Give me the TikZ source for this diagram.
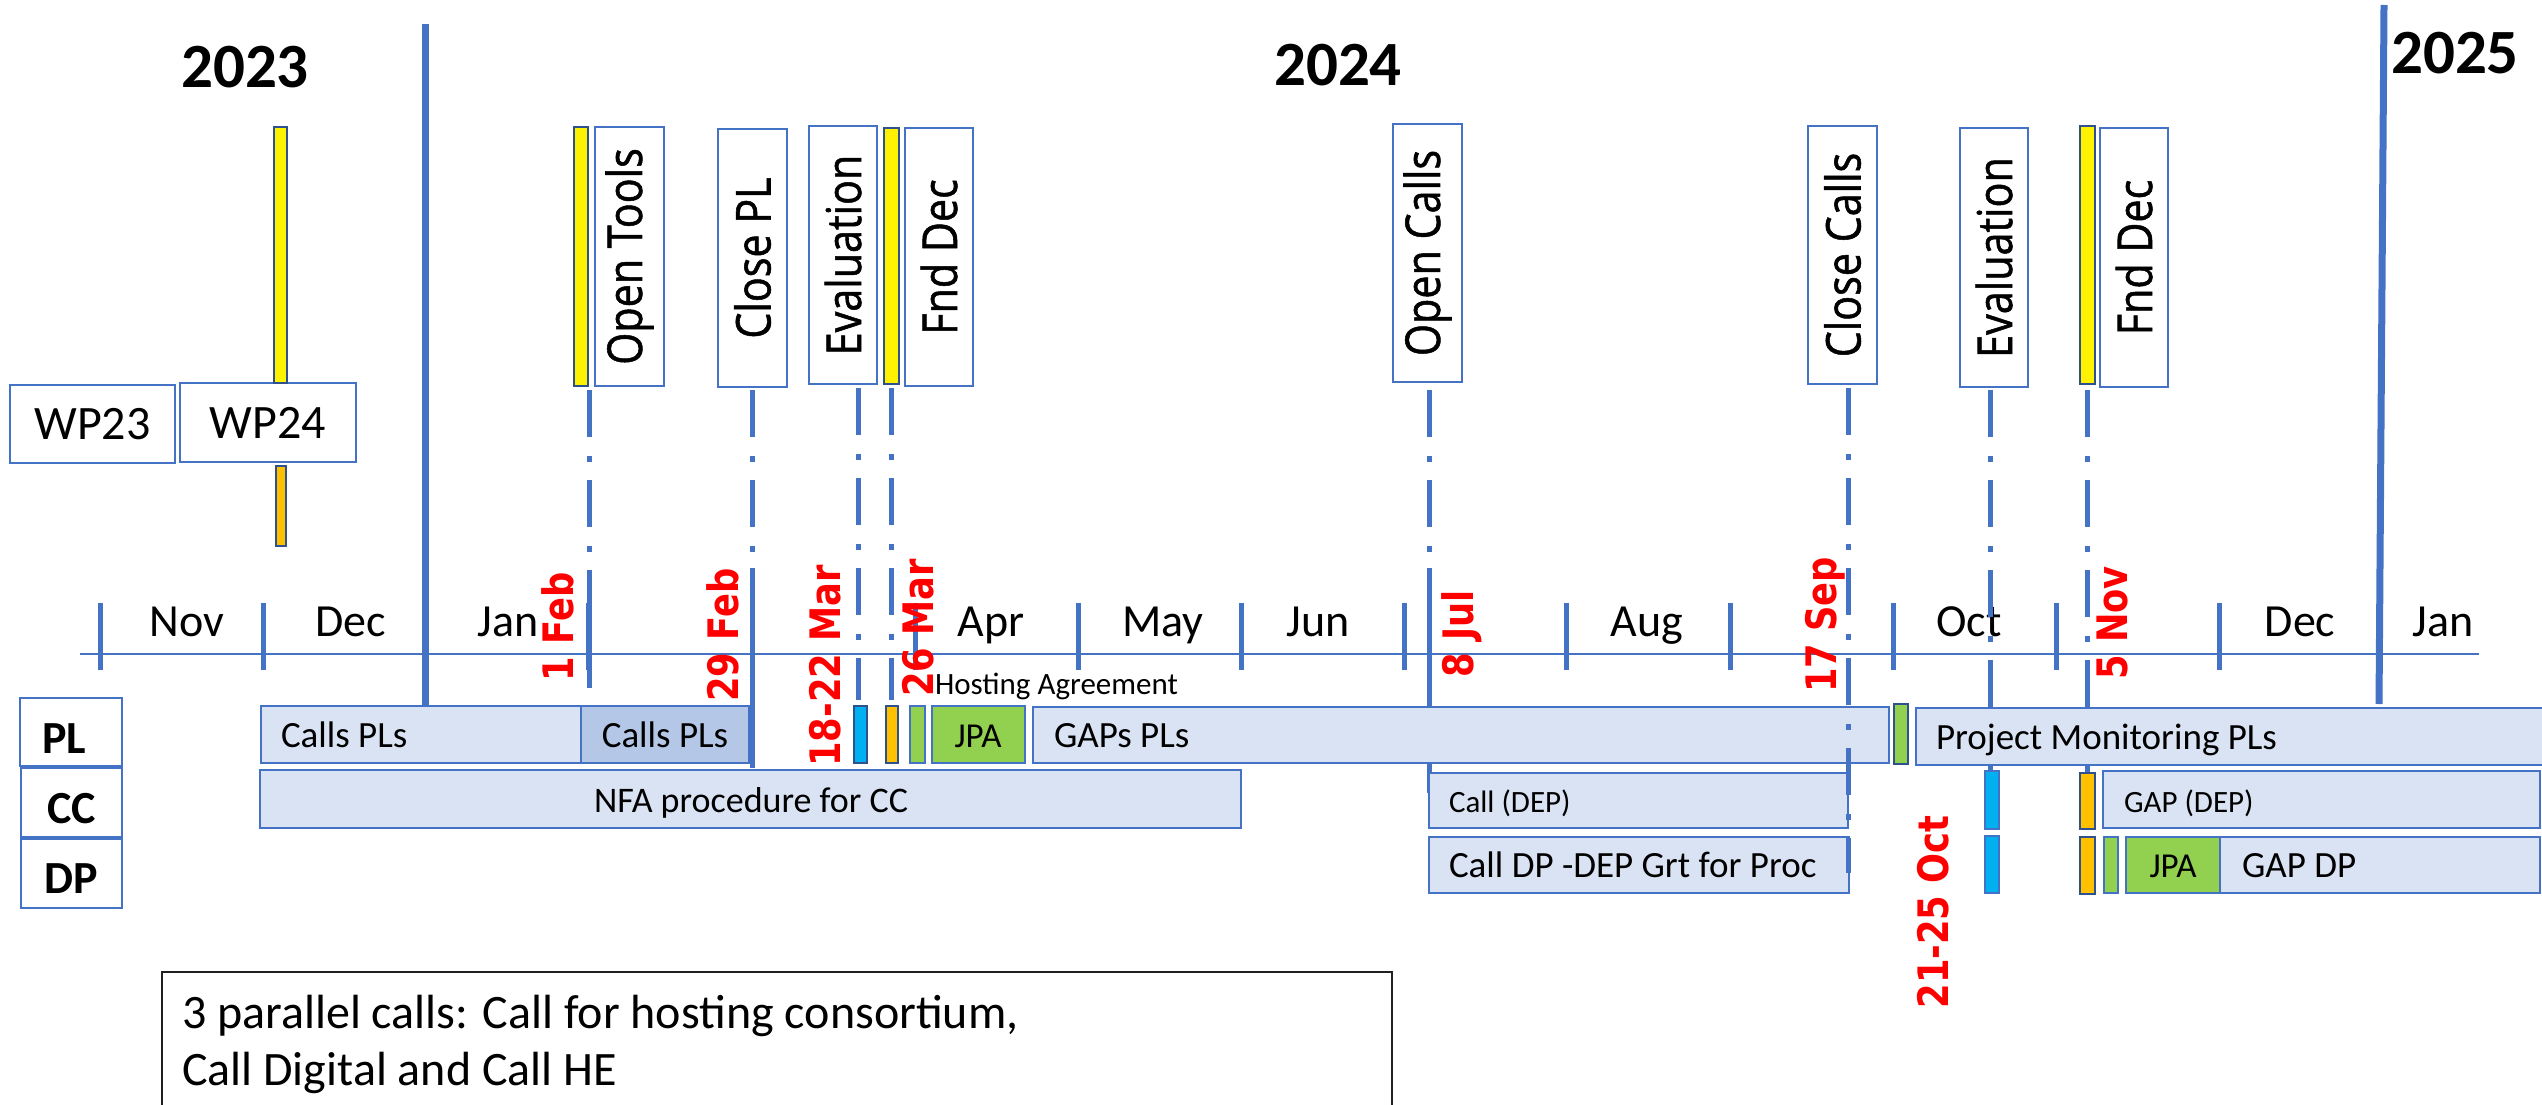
\documentclass[tikz,border=0pt]{standalone}
\usepackage{graphicx}
\usepackage{fontspec}
\setmainfont{Carlito}
\newfontfamily\boxfont{Open Sans}[UprightFeatures={FakeBold=1.2}]
\newfontfamily\datefont{DejaVu Sans}
\definecolor{ofblue}{HTML}{4472C4}
\definecolor{barfill}{HTML}{DAE3F3}
\definecolor{barfilldark}{HTML}{B4C7E7}
\definecolor{edgedark}{HTML}{2F528F}
\definecolor{jpagreen}{HTML}{92D050}
\definecolor{evalcyan}{HTML}{00B0F0}
\definecolor{decorange}{HTML}{FFC000}
\definecolor{notegray}{HTML}{202020}
\newcommand\fsz[1]{\fontsize{#1}{#1}\selectfont}
% box from corner (x1,y1) to (x2,y2): name, x1, y1, x2, y2, style, text
\newcommand\bx[7]{\node[#6,minimum width={(#4-#2)*1pt},minimum height={(#5-#3)*1pt}] (#1) at ({(#2+#4)/2},{(#3+#5)/2}) {#7};}
\newcommand\vtxt[1]{\rotatebox{90}{\scalebox{0.86}[1]{#1}}}
\newcommand\dtxt[1]{\scalebox{0.84}[1]{#1}}
\begin{document}
\begin{tikzpicture}[x=1pt,y=-1pt,
  every node/.style={inner sep=0pt,outer sep=0pt},
  bar/.style={draw=ofblue,line width=2.5pt,fill=barfill},
  bardark/.style={draw=ofblue,line width=2.5pt,fill=barfilldark},
  chip/.style={draw=edgedark,line width=2.5pt},
  greenchip/.style={draw=ofblue,line width=2.5pt,fill=jpagreen},
  lblbox/.style={draw=ofblue,line width=2.5pt,fill=white,font=\boxfont\fsz{48}},
  wpbox/.style={draw=ofblue,line width=2pt,font=\fsz{48}},
  rowbox/.style={draw=ofblue,line width=2pt},
  rowlbl/.style={font=\bfseries\fsz{46},anchor=base},
  month/.style={font=\fsz{46},anchor=base},
  yearlbl/.style={font=\bfseries\fsz{63},anchor=base},
  datelbl/.style={rotate=90,anchor=base,text=red,font=\datefont\bfseries\fsz{42}},
  bartext/.style={font=\fsz{37},anchor=base west},
  bartextc/.style={font=\fsz{37},anchor=base},
  smalltext/.style={font=\fsz{31},anchor=base west},
  ddash/.style={draw=ofblue,line width=5pt,dash pattern=on 47pt off 19pt on 6pt off 18pt},
  leadline/.style={draw=ofblue,line width=5pt},
  monthtick/.style={draw=ofblue,line width=5pt},
  yearline/.style={draw=ofblue,line width=7pt},
  axisline/.style={draw=ofblue,line width=2pt}
]
\useasboundingbox (0,0) rectangle (2542,1105);

% year headings
\node[yearlbl] (y23) at (245,88) {2023};
\node[yearlbl] (y24) at (1338,86) {2024};
\node[yearlbl] (y25) at (2455,74) {2025};

% time axis and month ticks
\coordinate (axL) at (80,654);
\coordinate (axR) at (2479,654);
\draw[axisline] (axL) -- (axR);
\foreach \x in {100,263,588,752,915,1078,1241,1404,1566,1730,1893,2056,2219}
  \draw[monthtick] (\x,603) -- (\x,670);

% year boundaries
\coordinate (yb1t) at (425,24);
\coordinate (yb1b) at (425,705);
\coordinate (yb2t) at (2384,5);
\coordinate (yb2b) at (2379,704);
\draw[yearline] (yb1t) -- (yb1b);
\draw[yearline] (yb2t) -- (yb2b);

% month names
\node[month] (mNov) at (187,636) {Nov};
\node[month] (mDec) at (351,636) {Dec};
\node[month] (mJan) at (508,636) {Jan};
\node[month] (mApr) at (991,636) {Apr};
\node[month] (mMay) at (1163,636) {May};
\node[month] (mJun) at (1318,636) {Jun};
\node[month] (mAug) at (1647,636) {Aug};
\node[month] (mOct) at (1969,636) {Oct};
\node[month] (mDec2) at (2300,636) {Dec};
\node[month] (mJan2) at (2443,636) {Jan};

% work programme boxes
\bx{wp23}{10}{385}{175}{463}{wpbox}{WP23}
\bx{wp24}{180}{383}{356}{462}{wpbox}{WP24}
\bx{ywp}{274}{127}{287}{383}{chip,fill=yellow}{}
\bx{owp}{276}{466}{286}{546}{chip,fill=decorange}{}

% milestone boxes
\bx{yot}{574}{127}{588}{386}{chip,fill=yellow}{}
\bx{ot}{595}{127}{664}{386}{lblbox}{\vtxt{Open Tools}}
\bx{cpl}{718}{129}{787}{387}{lblbox}{\vtxt{Close PL}}
\bx{ev1}{809}{126}{877}{384}{lblbox}{\vtxt{Evaluation}}
\bx{yfd1}{884}{128}{899}{384}{chip,fill=yellow}{}
\bx{fd1}{905}{128}{973}{386}{lblbox}{\vtxt{Fnd Dec}}
\bx{oc}{1393}{124}{1462}{382}{lblbox}{\vtxt{Open Calls}}
\bx{cc}{1808}{126}{1877}{384}{lblbox}{\vtxt{Close Calls}}
\bx{ev2}{1960}{128}{2028}{387}{lblbox}{\vtxt{Evaluation}}
\bx{yfd2}{2080}{126}{2095}{384}{chip,fill=yellow}{}
\bx{fd2}{2100}{128}{2168}{387}{lblbox}{\vtxt{Fnd Dec}}

% drop lines from milestones to the bars
\coordinate (d1a) at (589,390);  \coordinate (d1m) at (589,570);  \coordinate (d1b) at (589,688);
\coordinate (d2a) at (752,390);  \coordinate (d2m) at (752,568);  \coordinate (d2b) at (752,768);
\coordinate (d3a) at (858,388);  \coordinate (d3b) at (858,700);
\coordinate (d4a) at (891,388);  \coordinate (d4b) at (891,700);
\coordinate (d5a) at (1429,390); \coordinate (d5m) at (1429,568); \coordinate (d5b) at (1429,793);
\coordinate (d6a) at (1848,388); \coordinate (d6b) at (1848,873);
\coordinate (d7a) at (1990,390); \coordinate (d7b) at (1990,771);
\coordinate (d8a) at (2087,390); \coordinate (d8b) at (2087,773);
\draw[ddash] (d1a) -- (d1b);
\draw[leadline] (d1m) -- (d1b);
\draw[ddash] (d2a) -- (d2b);
\draw[leadline] (d2m) -- (d2b);
\draw[ddash] (d3a) -- (d3b);
\draw[ddash] (d4a) -- (d4b);
\draw[ddash] (d5a) -- (d5b);
\draw[leadline] (d5m) -- (d5b);
\draw[ddash] (d7a) -- (d7b);
\draw[ddash] (d8a) -- (d8b);

% row labels
\bx{rPL}{20}{698}{122}{766}{rowbox}{}
\bx{rCC}{21}{768}{122}{837}{rowbox}{}
\bx{rDP}{21}{839}{122}{908}{rowbox}{}
\node[rowlbl] (tPL) at (64,753) {PL};
\node[rowlbl] (tCC) at (72,823) {CC};
\node[rowlbl] (tDP) at (71,893) {DP};

% PL row
\bx{callsA}{261}{706}{581}{763}{bar}{}
\bx{callsB}{581}{706}{749}{763}{bardark}{}
\bx{evA}{854}{706}{867}{763}{chip,fill=evalcyan}{}
\bx{orA}{886}{706}{898}{763}{chip,fill=decorange}{}
\bx{grA}{910}{706}{925}{763}{greenchip}{}
\bx{jpaA}{932}{706}{1025}{763}{greenchip}{}
\bx{gaps}{1033}{707}{1889}{763}{bar}{}
\bx{grB}{1894}{704}{1908}{764}{chip,fill=jpagreen}{}
\bx{mon}{1916}{708}{2548}{765}{bar}{}
\node[bartext] (tcallsA) at (281,747) {Calls PLs};
\node[bartextc] (tcallsB) at (665,747) {Calls PLs};
\node[bartextc,font=\fsz{35}] (tjpaA) at (978,747) {JPA};
\node[bartext] (tgaps) at (1054,747) {GAPs PLs};
\node[bartext] (tmon) at (1936,749) {Project Monitoring PLs};
\node[smalltext] (host) at (935,694) {Hosting Agreement};

% CC row
\bx{nfa}{260}{770}{1241}{828}{bar}{}
\bx{calldep}{1429}{773}{1848}{828}{bar}{}
\bx{evB}{1985}{771}{1999}{829}{draw=ofblue,line width=2.5pt,fill=evalcyan}{}
\bx{orB}{2080}{773}{2095}{829}{chip,fill=decorange}{}
\bx{gapdep}{2103}{771}{2540}{828}{bar}{}
\node[bartextc,font=\fsz{36}] (tnfa) at (751,812) {NFA procedure for CC};
\node[smalltext] (tcalldep) at (1449,812) {Call (DEP)};
\node[smalltext] (tgapdep) at (2124,812) {GAP (DEP)};

% DP row
\bx{calldp}{1429}{837}{1849}{893}{bar}{}
\bx{evC}{1985}{836}{1999}{893}{draw=ofblue,line width=2.5pt,fill=evalcyan}{}
\bx{orC}{2080}{837}{2095}{894}{chip,fill=decorange}{}
\bx{grC}{2104}{837}{2118}{893}{greenchip}{}
\bx{jpaC}{2126}{837}{2220}{893}{greenchip}{}
\bx{gapdp}{2220}{837}{2540}{893}{bar}{}
\node[bartext] (tcalldp) at (1449,877) {Call DP -DEP Grt for Proc};
\node[bartextc,font=\fsz{35}] (tjpaC) at (2173,877) {JPA};
\node[bartext] (tgapdp) at (2242,877) {GAP DP};

% closing-call line runs over the bars
\draw[ddash] (d6a) -- (d6b);

% key dates
\node[datelbl] (k1) at (573,627) {\dtxt{1 Feb}};
\node[datelbl] (k2) at (738,635) {\dtxt{29 Feb}};
\node[datelbl] (k3) at (840,666) {\dtxt{18-22 Mar}};
\node[datelbl] (k4) at (933,628) {\dtxt{26 Mar}};
\node[datelbl] (k5) at (1473,634) {\dtxt{8 Jul}};
\node[datelbl] (k6) at (1836,625) {\dtxt{17 Sep}};
\node[datelbl] (k7) at (1948,912) {\dtxt{21-25 Oct}};
\node[datelbl] (k8) at (2127,623) {\dtxt{5 Nov}};

% note
\bx{note}{162}{972}{1392}{1130}{draw=notegray,line width=2pt}{}
\node[font=\fsz{48},anchor=base west] (n1) at (182,1028) {3 parallel calls: Call for hosting consortium,};
\node[font=\fsz{48},anchor=base west] (n2) at (182,1085) {Call Digital and Call HE};
\end{tikzpicture}
\end{document}
